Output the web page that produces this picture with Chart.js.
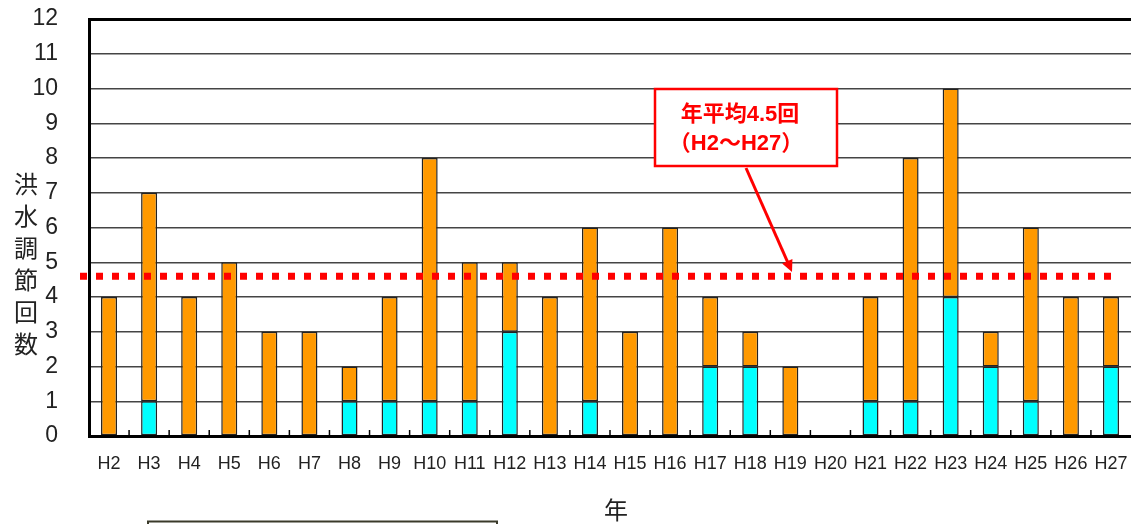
<!DOCTYPE html>
<html><head><meta charset="utf-8">
<script src="https://cdn.jsdelivr.net/npm/chart.js@4.4.0/dist/chart.umd.min.js"></script>
<style>html,body{margin:0;padding:0;background:#fff;}#wrap{width:1131px;height:524px;position:relative;}</style>
</head><body><div id="wrap"><canvas id="c" width="1131" height="524"></canvas></div>
<script>
const categories = ['H2','H3','H4','H5','H6','H7','H8','H9','H10','H11','H12','H13','H14','H15','H16','H17','H18','H19','H20','H21','H22','H23','H24','H25','H26','H27'];
const cyanValues   = [0,1,0,0,0,0,1,1,1,1,3,0,1,0,0,2,2,0,0,1,1,4,2,1,0,2];
const orangeValues = [4,6,4,5,3,3,1,3,7,4,2,4,5,3,6,2,1,2,0,3,7,6,1,5,4,2];
const yTicks = [0,1,2,3,4,5,6,7,8,9,10,11,12];
const averageLevel = 4.6;
const noteLines = ['年平均4.5回', '（H2～H27）'];
const yTitle = '洪水調節回数';
const xTitle = '年';

const FONT = "'Liberation Sans','Noto Sans CJK JP',sans-serif";

const overlay = {
  id: 'overlay',
  afterDatasetsDraw(chart) {
    const ctx = chart.ctx, x = chart.scales.x, y = chart.scales.y, area = chart.chartArea;
    ctx.save();
    ctx.strokeStyle = '#000'; ctx.lineWidth = 1.5;
    for (let i = 0; i < categories.length - 1; i++) {
      const px = (x.getPixelForValue(i) + x.getPixelForValue(i + 1)) / 2;
      ctx.beginPath(); ctx.moveTo(px, area.bottom); ctx.lineTo(px, area.bottom - 6); ctx.stroke();
    }
    const ay = y.getPixelForValue(averageLevel);
    ctx.strokeStyle = '#ff0000'; ctx.lineWidth = 7; ctx.setLineDash([7, 9]);
    ctx.beginPath(); ctx.moveTo(80, ay); ctx.lineTo(1114, ay); ctx.stroke();
    ctx.setLineDash([]);
    ctx.fillStyle = '#fff'; ctx.fillRect(655, 89, 182, 77);
    ctx.strokeStyle = '#ff0000'; ctx.lineWidth = 2.5; ctx.strokeRect(655, 89, 182, 77);
    ctx.fillStyle = '#ff0000'; ctx.font = 'bold 22px ' + FONT; ctx.textAlign = 'center'; ctx.textBaseline = 'middle';
    ctx.fillText(noteLines[0], 740, 115);
    ctx.fillText(noteLines[1], 736, 144);
    const x1 = 746, y1 = 168, x2 = 792, y2 = 272;
    ctx.strokeStyle = '#ff0000'; ctx.lineWidth = 3;
    const ang = Math.atan2(y2 - y1, x2 - x1);
    ctx.beginPath(); ctx.moveTo(x1, y1); ctx.lineTo(x2 - 8 * Math.cos(ang), y2 - 8 * Math.sin(ang)); ctx.stroke();
    ctx.beginPath();
    ctx.moveTo(x2, y2);
    ctx.lineTo(x2 - 13 * Math.cos(ang - 0.45), y2 - 13 * Math.sin(ang - 0.45));
    ctx.lineTo(x2 - 13 * Math.cos(ang + 0.45), y2 - 13 * Math.sin(ang + 0.45));
    ctx.closePath(); ctx.fill();
    ctx.fillStyle = '#222'; ctx.font = '24px ' + FONT;
    [...yTitle].forEach((ch, i) => ctx.fillText(ch, 26, 186 + i * 32));
    ctx.fillText(xTitle, 616, 512);
    ctx.strokeStyle = '#3a3a2a'; ctx.lineWidth = 2;
    ctx.strokeRect(148, 521.5, 349, 30);
    ctx.restore();
  }
};

new Chart(document.getElementById('c'), {
  type: 'bar',
  data: {
    labels: categories,
    datasets: [
      { label: 'cyan', data: cyanValues, backgroundColor: '#00ffff', borderColor: '#222', borderWidth: 1.5, borderSkipped: false, barPercentage: 0.4, categoryPercentage: 1 },
      { label: 'orange', data: orangeValues, backgroundColor: '#ff9900', borderColor: '#222', borderWidth: 1.5, borderSkipped: false, barPercentage: 0.4, categoryPercentage: 1 }
    ]
  },
  options: {
    responsive: false, animation: false, devicePixelRatio: 1,
    layout: { padding: { top: 19, right: 0, left: 0, bottom: 0 } },
    plugins: { legend: { display: false }, tooltip: { enabled: false } },
    scales: {
      x: {
        stacked: true,
        grid: { display: true, drawOnChartArea: false, drawTicks: true, tickLength: 17, tickColor: 'rgba(0,0,0,0)' },
        border: { color: '#000', width: 3 },
        ticks: { color: '#222', font: { family: FONT, size: 18 }, padding: 0, maxRotation: 0, autoSkip: false },
        afterFit(s) { s.height = 88; }
      },
      y: {
        stacked: true, min: 0, max: 12,
        afterBuildTicks(s) { s.ticks = yTicks.map(v => ({ value: v })); },
        grid: { color: c => c.tick && c.tick.value === 12 ? '#000' : '#444', lineWidth: c => c.tick && c.tick.value === 12 ? 3 : 1.5, drawTicks: true, tickLength: 31, tickColor: 'rgba(0,0,0,0)' },
        border: { color: '#000', width: 3 },
        ticks: { color: '#222', font: { family: FONT, size: 23 }, padding: 0 },
        afterFit(s) { s.width = 89; }
      }
    }
  },
  plugins: [overlay]
});
</script></body></html>
